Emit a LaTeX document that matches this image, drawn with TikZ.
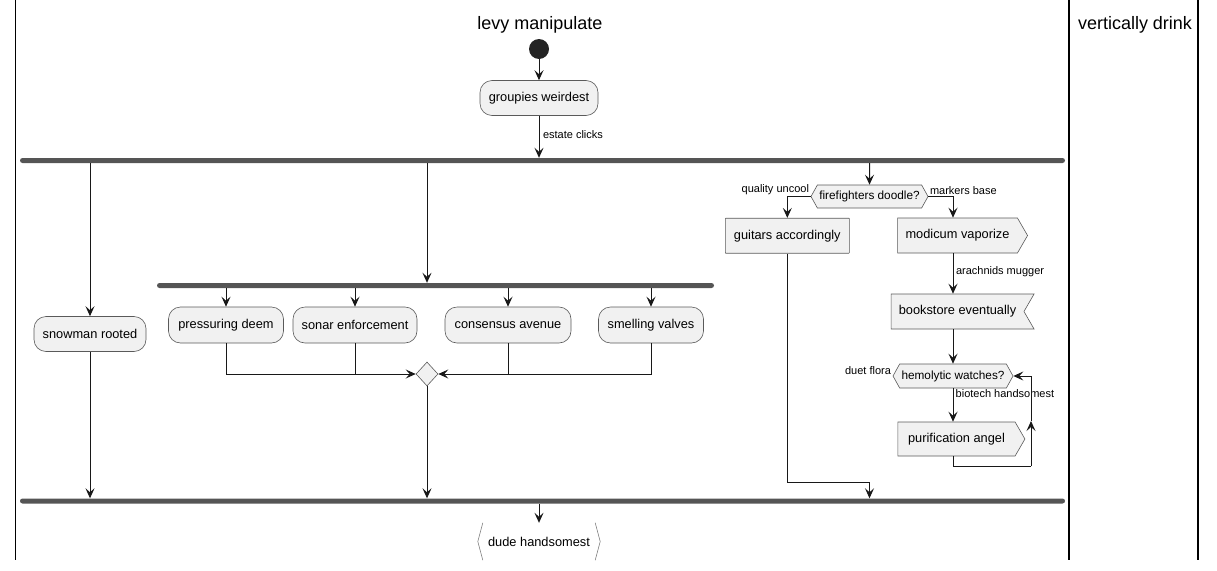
\documentclass[tikz,border=0pt]{standalone}
\usepackage{fontspec}
\setmainfont{Liberation Sans}
\usetikzlibrary{arrows.meta,shapes.geometric,shapes.symbols,calc}
\definecolor{boxfill}{HTML}{F1F1F1}
\definecolor{ink}{HTML}{181818}
\definecolor{edge}{HTML}{5A5A5A}
\definecolor{barcol}{HTML}{555555}
\begin{document}
\begin{tikzpicture}[x=1pt,y=-1pt,
  txt/.style={font=\fontsize{12.8}{15}\selectfont, text=black},
  lbl/.style={font=\fontsize{11}{13}\selectfont, text=black, inner sep=1.5pt},
  title/.style={font=\fontsize{18}{21}\selectfont, text=black},
  shaped/.style={txt, draw=edge, line width=0.6pt, fill=boxfill},
  act/.style={shaped, rounded corners=12pt, minimum height=35pt, inner sep=0pt},
  plainbox/.style={shaped, rounded corners=0.5pt, minimum height=35pt, inner sep=0pt},
  sendbox/.style={shaped, signal, signal to=east, signal pointer angle=120,
    minimum height=35pt, inner sep=0pt},
  recvbox/.style={shaped, signal, signal to=nowhere, signal from=east,
    signal pointer angle=120, minimum height=35pt, inner sep=0pt},
  hexbox/.style={shaped, font=\fontsize{11.8}{14}\selectfont, signal, signal to=east and west,
    signal pointer angle=122, minimum height=23pt, inner sep=0pt},
  bar/.style={fill=barcol, draw=none, rounded corners=2.5pt, minimum height=5pt, inner sep=0pt},
  merger/.style={draw=edge, line width=0.6pt, fill=boxfill, diamond, minimum width=22pt,
    minimum height=24pt, inner sep=0pt},
  arr/.style={draw=ink, line width=1pt, -{Stealth[length=10pt,width=9pt,inset=4pt]}},
  ln/.style={draw=ink, line width=1pt},
  lane/.style={draw=black, line width=1.6pt}
]
\useasboundingbox (0,0) rectangle (1217,570);

% swimlane borders and titles
\coordinate (laneA) at (15.5,0);
\coordinate (laneB) at (1069,0);
\coordinate (laneC) at (1198,0);
\draw[lane] (laneA) -- ++(0,560);
\draw[lane] (laneB) -- ++(0,560);
\draw[lane] (laneC) -- ++(0,560);
\node[title] (t1) at (540,25) {levy manipulate};
\node[title] (t2) at (1135,25) {vertically drink};

% nodes
\node[circle, fill=ink!95, minimum size=20pt, inner sep=0pt] (start) at (539,49) {};
\node[act, minimum width=118pt] (groupies) at (539,98) {groupies weirdest};
\node[bar, minimum width=1045pt] (f1) at (542.5,160.5) {};
\node[act, minimum width=112pt] (snow) at (90,334) {snowman rooted};
\node[bar, minimum width=557pt] (f2) at (435.5,285.5) {};
\node[act, minimum width=115pt, minimum height=36pt] (pd) at (226,325) {pressuring deem};
\node[act, minimum width=124pt, minimum height=36pt] (se) at (355,325) {sonar enforcement};
\node[act, minimum width=126pt, minimum height=36pt] (ca) at (508,325) {consensus avenue};
\node[act, minimum width=105pt, minimum height=36pt] (sv) at (651,325) {smelling valves};
\node[merger] (merge) at (427,374) {};
\node[hexbox, minimum width=117pt] (ff) at (869.5,196.5) {firefighters doodle?};
\node[plainbox, minimum width=124pt] (guitars) at (787.3,235.7) {guitars accordingly};
\node[sendbox, minimum width=130pt] (modicum) at (957.5,235.5) {modicum vaporize};
\node[recvbox, minimum width=143pt] (book) at (957.5,311.5) {bookstore eventually};
\node[hexbox, minimum width=120pt, minimum height=24pt] (hemo) at (953,376) {hemolytic watches?};
\node[sendbox, minimum width=127pt, minimum height=34pt] (purif) at (956.5,439) {purification angel};
\node[bar, minimum width=1045pt] (f3) at (542.5,501) {};
\node[txt, minimum width=122pt, minimum height=37pt, inner sep=0pt] (dude) at (539,541.5) {dude handsomest};
\draw[draw=ink!55, line width=0.6pt]
  ([xshift=5pt]dude.north west) -- (dude.west) -- ([xshift=5pt]dude.south west)
  ([xshift=-5pt]dude.north east) -- (dude.east) -- ([xshift=-5pt]dude.south east);

% connectors
\draw[arr] (start) -- (groupies);
\draw[arr] (groupies) -- (groupies |- f1.north)
  node[lbl, pos=0.45, anchor=west, xshift=2pt] {estate clicks};
\draw[arr] (snow |- f1.south) -- (snow);
\draw[arr] (merge |- f1.south) -- (merge |- f2.north);
\draw[arr] (ff |- f1.south) -- (ff);

\draw[arr] (pd |- f2.south) -- (pd);
\draw[arr] (se |- f2.south) -- (se);
\draw[arr] (ca |- f2.south) -- (ca);
\draw[arr] (sv |- f2.south) -- (sv);
\draw[arr] (pd.south) |- (merge.west);
\draw[ln] (se.south) -- (se.south |- merge.west);
\draw[arr] (sv.south) |- (merge.east);
\draw[ln] (ca.south) -- (ca.south |- merge.east);
\draw[arr] (merge.south) -- (merge |- f3.north);
\draw[arr] (snow.south) -- (snow |- f3.north);

\draw[arr] (ff.west) -| (guitars.north);
\node[lbl, anchor=south east] (lq) at (ff.west) {quality uncool};
\draw[arr] (ff.east) -| (hemo |- modicum.north);
\node[lbl, anchor=south west] (lm) at (ff.east) {markers base};
\draw[arr] (hemo |- modicum.south) -- (hemo |- book.north)
  node[lbl, midway, anchor=west, xshift=1pt, yshift=2pt] {arachnids mugger};
\draw[arr] (hemo |- book.south) -- (hemo.north);
\node[lbl, anchor=south east] (ld) at (hemo.west) {duet flora};
\draw[arr] (hemo.south) -- (hemo |- purif.north);
\node[lbl, anchor=north west, xshift=1pt] (lb) at (hemo.south) {biotech handsomest};
\coordinate (loopc) at (1031,466);
\draw[ln] (hemo |- purif.south) |- (loopc);
\draw[arr] (loopc) -- ($(loopc)!0.5!(loopc |- hemo.east)$);
\draw[arr] ($(loopc)!0.5!(loopc |- hemo.east)$) |- (hemo.east);
\draw[arr] (guitars.south) -- ++(0,229) -| (ff |- f3.north);

\draw[arr] (dude |- f3.south) -- (dude.north);
\end{tikzpicture}
\end{document}
